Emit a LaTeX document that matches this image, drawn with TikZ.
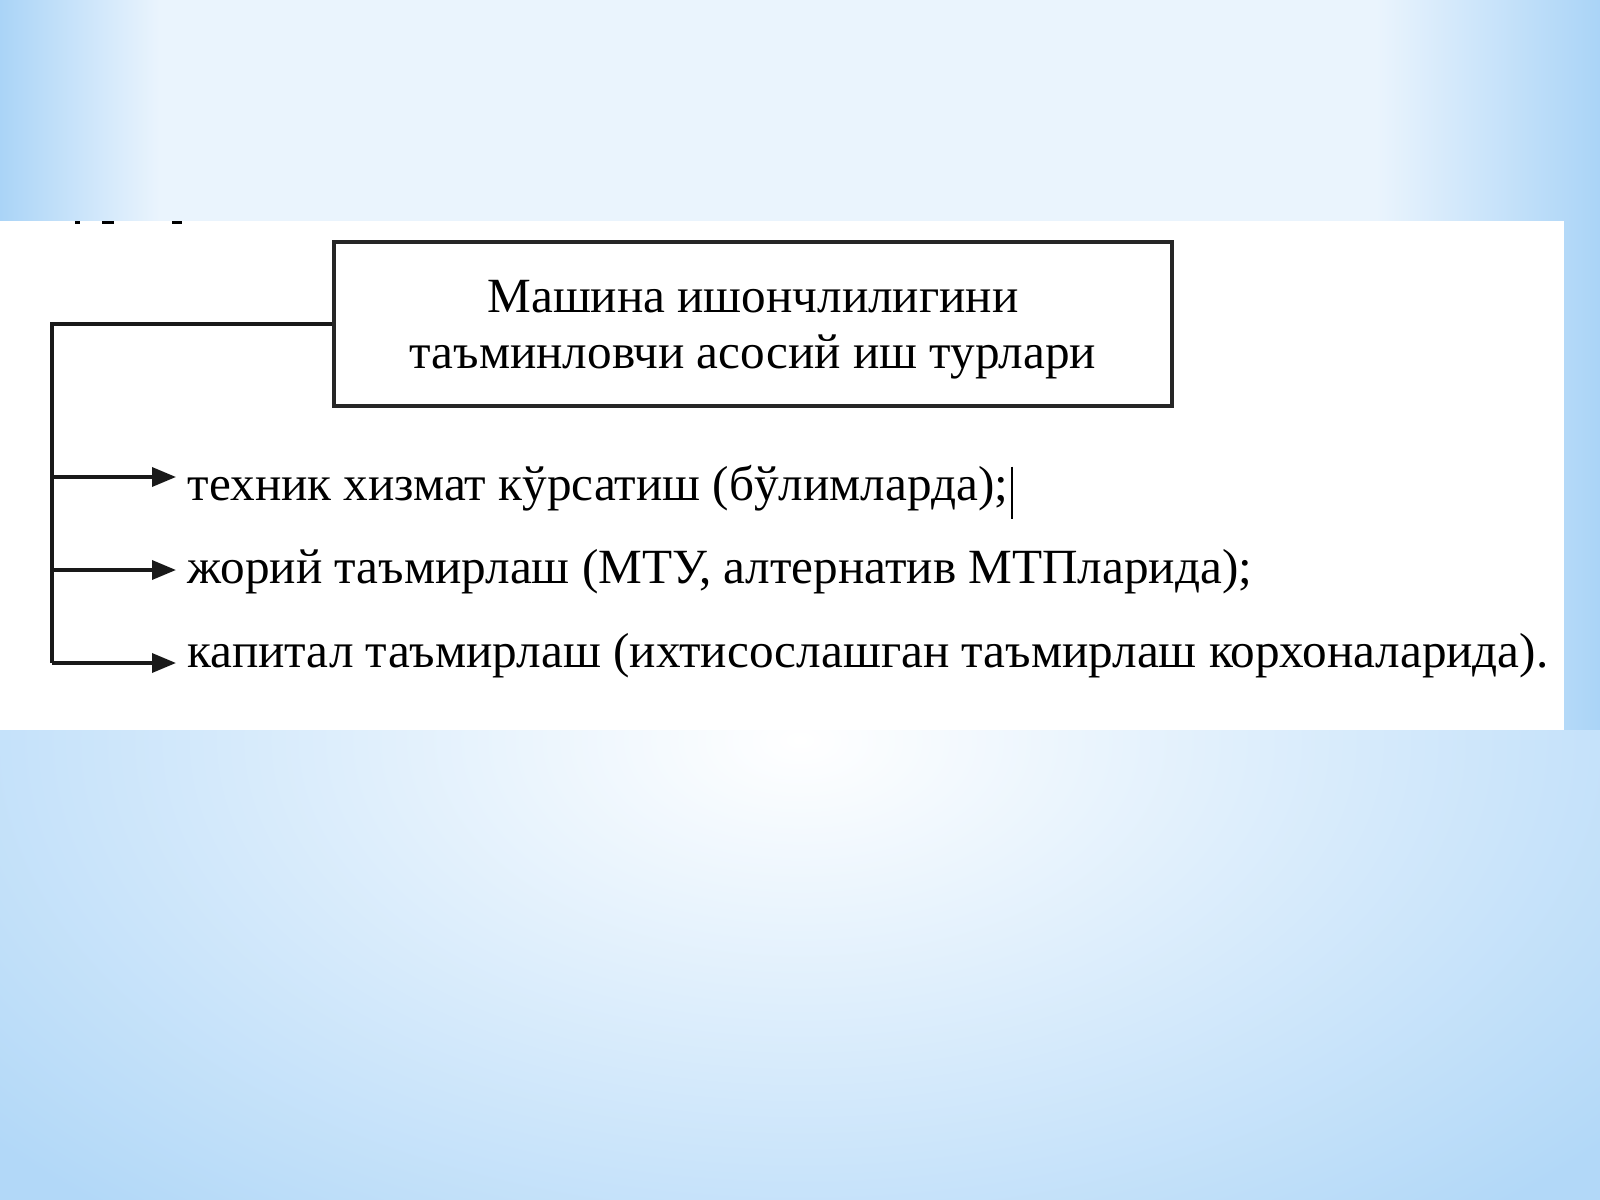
\documentclass[tikz,border=0pt]{standalone}
\usepackage{fontspec}
\setmainfont{Liberation Serif}
\usetikzlibrary{arrows.meta}
\definecolor{bgblue}{RGB}{170,212,247}
\definecolor{bgpale}{RGB}{234,244,253}
\pgfdeclarehorizontalshading{sidefade}{100bp}{color(0bp)=(bgblue); color(25bp)=(bgblue); color(30bp)=(bgpale); color(68bp)=(bgpale); color(75bp)=(bgblue); color(100bp)=(bgblue)}
\tikzset{
  mainbox/.style={draw=black!85, line width=1pt, minimum width=83.8mm, minimum height=16.4mm, align=center, text depth=0pt, font=\fontsize{14}{15.9}\selectfont},
  item/.style={anchor=base west, inner xsep=1.1mm, inner ysep=0pt, font=\fontsize{14}{15.9}\selectfont},
  trunk/.style={line width=1pt, black!90},
  branch/.style={line width=1pt, black!90, -{Triangle[length=2.4mm,width=1.9mm]}}
}
\begin{document}
\begin{tikzpicture}[x=0.1mm, y=-0.1mm]
\useasboundingbox (0,0) rectangle (1600,1200);
% background
\shade[shading=sidefade] (0,0) rectangle (1600,1200);
\begin{scope}
\clip (0,730) rectangle (1600,1200);
\fill[bgblue!90] (0,730) rectangle (1600,1200);
\shade[inner color=white, outer color=bgblue!90] (800,740) ellipse (1050 and 620);
\end{scope}
\fill[white] (0,221) rectangle (1564,730);
% cut-off marks
\fill[black] (75,221) rectangle (80,224);
\fill[black] (102,221) rectangle (114,224);
\fill[black] (172,221) rectangle (182,224);
% title box
\node[mainbox] (main) at (753,324) {Машина ишончлилигини\\таъминловчи асосий иш турлари};
% items
\node[item] (item1) at (176,500) {техник хизмат кўрсатиш (бўлимларда);};
\node[item] (item2) at (176,583) {жорий таъмирлаш (МТУ, алтернатив МТПларида);};
\node[item] (item3) at (176,667) {капитал таъмирлаш (ихтисослашган таъмирлаш корхоналарида).};
\coordinate (t0) at (52,324);
\coordinate (t1) at (52,477);
\coordinate (t2) at (52,570);
\coordinate (t3) at (52,663);
\draw[trunk] (main.west) -- (t0) -- (t3);
\draw[branch] (t1) -- (t1 -| item1.west);
\draw[branch] (t2) -- (t2 -| item2.west);
\draw[branch] (t3) -- (t3 -| item3.west);
% cursor
\draw[line width=0.6pt] (item1.east) ++(-8,-21) -- ++(0,52);
\end{tikzpicture}
\end{document}
